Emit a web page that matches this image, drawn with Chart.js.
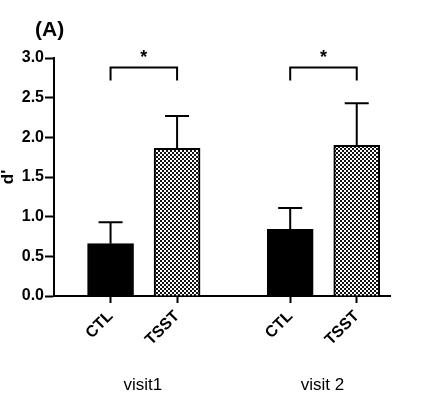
<!DOCTYPE html>
<html>
<head>
<meta charset="utf-8">
<script src="https://cdn.jsdelivr.net/npm/chart.js@4"></script>
<style>
  html, body { margin: 0; padding: 0; background: #fff; }
</style>
</head>
<body>
<canvas id="chart" width="426" height="397"></canvas>
<script>
const panelLabel = '(A)';
const yTitle = "d'";
const categories = ['CTL', 'TSST', 'CTL', 'TSST'];
const xPositions = [1, 2, 3.7, 4.7];
const meanValues = [0.66, 1.86, 0.84, 1.90];
const semValues = [0.27, 0.41, 0.27, 0.53];
const visitLabels = ['visit1', 'visit 2'];
const visitBars = [[0, 1], [2, 3]];
const sigPairs = [[0, 1], [2, 3]];
const sigLevels = [2.88, 2.88];
const sigMarks = ['*', '*'];

const FONT = 'Arial, "Liberation Sans", Helvetica, sans-serif';
const canvas = document.getElementById('chart');

// fine checkerboard fill used for the TSST bars
function checker(ctx) {
    const c = document.createElement('canvas');
    c.width = 4; c.height = 4;
    const g = c.getContext('2d');
    g.fillStyle = '#fff';
    g.fillRect(0, 0, 4, 4);
    g.fillStyle = '#111';
    g.fillRect(0, 0, 2, 2);
    g.fillRect(2, 2, 2, 2);
    return ctx.createPattern(c, 'repeat');
}
const pattern = checker(canvas.getContext('2d'));

const extras = {
    id: 'extras',
    afterDraw(chart) {
        const { ctx, scales: { x, y } } = chart;
        const meta = chart.getDatasetMeta(0);
        ctx.save();
        ctx.strokeStyle = '#000';
        ctx.fillStyle = '#000';
        ctx.lineWidth = 2;

        // upper error bars
        meta.data.forEach((bar, i) => {
            const top = y.getPixelForValue(meanValues[i]);
            const tip = y.getPixelForValue(meanValues[i] + semValues[i]);
            ctx.beginPath();
            ctx.moveTo(bar.x, top);
            ctx.lineTo(bar.x, tip);
            ctx.moveTo(bar.x - 12, tip);
            ctx.lineTo(bar.x + 12, tip);
            ctx.stroke();
        });

        // significance brackets
        sigPairs.forEach(([a, b], k) => {
            const x1 = x.getPixelForValue(xPositions[a]);
            const x2 = x.getPixelForValue(xPositions[b]);
            const yt = y.getPixelForValue(sigLevels[k]);
            ctx.beginPath();
            ctx.moveTo(x1, yt + 13);
            ctx.lineTo(x1, yt);
            ctx.lineTo(x2, yt);
            ctx.lineTo(x2, yt + 13);
            ctx.stroke();
            ctx.font = 'bold 18px ' + FONT;
            ctx.textAlign = 'center';
            ctx.textBaseline = 'alphabetic';
            ctx.fillText(sigMarks[k], (x1 + x2) / 2, yt - 5);
        });

        // group labels under the axis
        ctx.font = '17px ' + FONT;
        ctx.textAlign = 'center';
        visitBars.forEach((idx, k) => {
            const cx = idx.reduce((s, i) => s + x.getPixelForValue(xPositions[i]), 0) / idx.length;
            ctx.fillText(visitLabels[k], cx - 1, chart.chartArea.bottom + 94);
        });

        // panel letter
        ctx.font = 'bold 21px ' + FONT;
        ctx.textAlign = 'left';
        ctx.fillText(panelLabel, 35, 36);
        ctx.restore();
    }
};

new Chart(canvas, {
    type: 'bar',
    data: {
        datasets: [{
            data: xPositions.map((v, i) => ({ x: v, y: meanValues[i] })),
            backgroundColor: categories.map(c => c === 'CTL' ? '#000' : pattern),
            borderColor: '#000',
            borderWidth: 2,
            barThickness: 46
        }]
    },
    options: {
        responsive: false,
        devicePixelRatio: 1,
        animation: false,
        layout: { padding: { top: 58, right: 36, bottom: 0, left: 0 } },
        plugins: {
            legend: { display: false },
            tooltip: { enabled: false }
        },
        scales: {
            x: {
                type: 'linear',
                min: 0.15,
                max: 5.2,
                offset: false,
                afterBuildTicks: s => { s.ticks = xPositions.map(v => ({ value: v })); },
                afterFit: s => { s.height = 101; },
                ticks: {
                    callback: (v, i) => categories[i],
                    autoSkip: false,
                    minRotation: 45,
                    maxRotation: 45,
                    padding: 4,
                    color: '#000',
                    font: { family: FONT, size: 16, weight: 'bold' }
                },
                grid: { drawOnChartArea: false, offset: false, tickLength: 7, tickWidth: 2, tickColor: '#000' },
                border: { color: '#000', width: 2 }
            },
            y: {
                min: 0,
                max: 3,
                afterFit: s => { s.width = 54; },
                ticks: {
                    stepSize: 0.5,
                    callback: v => v.toFixed(1),
                    padding: 1,
                    color: '#000',
                    font: { family: FONT, size: 16, weight: 'bold' }
                },
                grid: { drawOnChartArea: false, tickLength: 9, tickWidth: 2, tickColor: '#000' },
                border: { color: '#000', width: 2 },
                title: {
                    display: true,
                    text: yTitle,
                    padding: 0,
                    color: '#000',
                    font: { family: FONT, size: 17, weight: 'bold', lineHeight: 1 }
                }
            }
        }
    },
    plugins: [extras]
});
</script>
</body>
</html>
